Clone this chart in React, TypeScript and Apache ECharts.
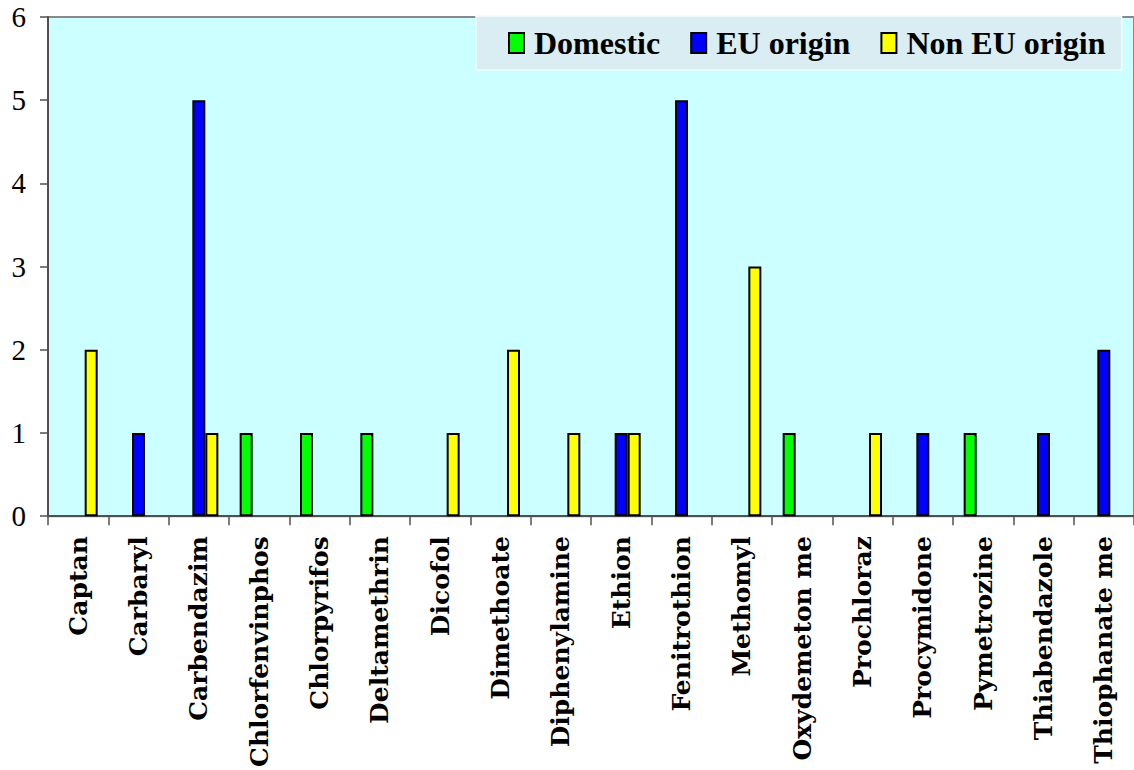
import React, { useEffect, useRef } from "react";
import * as echarts from "echarts";

const categories = [
  "Captan",
  "Carbaryl",
  "Carbendazim",
  "Chlorfenvinphos",
  "Chlorpyrifos",
  "Deltamethrin",
  "Dicofol",
  "Dimethoate",
  "Diphenylamine",
  "Ethion",
  "Fenitrothion",
  "Methomyl",
  "Oxydemeton me",
  "Prochloraz",
  "Procymidone",
  "Pymetrozine",
  "Thiabendazole",
  "Thiophanate me",
];

const domestic = [0, 0, 0, 1, 1, 1, 0, 0, 0, 0, 0, 0, 1, 0, 0, 1, 0, 0];
const euOrigin = [0, 1, 5, 0, 0, 0, 0, 0, 0, 1, 5, 0, 0, 0, 1, 0, 1, 2];
const nonEuOrigin = [2, 0, 1, 0, 0, 0, 1, 2, 1, 1, 0, 3, 0, 1, 0, 0, 0, 0];

const yTicks = { min: 0, max: 6, interval: 1 };

const seriesNames = ["Domestic", "EU origin", "Non EU origin"];
const seriesColors = ["#00FF00", "#0000FF", "#FFFF00"];

export default function App() {
  const ref = useRef<HTMLDivElement>(null);

  useEffect(() => {
    if (!ref.current) return;
    const chart = echarts.init(ref.current, null, { renderer: "svg" });
    const values = [domestic, euOrigin, nonEuOrigin];
    chart.setOption({
      animation: false,
      backgroundColor: "#FFFFFF",
      grid: {
        left: 48,
        top: 17,
        right: -5,
        bottom: 253,
        show: true,
        backgroundColor: "#CCFFFF",
        borderColor: "#888888",
        borderWidth: 2,
        containLabel: false,
      },
      legend: {
        left: 476,
        top: 16,
        padding: [11, 16, 11, 32],
        backgroundColor: "#DAEDF2",
        borderColor: "#F4FAFC",
        borderWidth: 1.5,
        itemWidth: 15,
        itemHeight: 20,
        itemGap: 30,
        icon: "rect",
        data: seriesNames,
        itemStyle: { borderColor: "#000000", borderWidth: 2 },
        textStyle: {
          fontFamily: "Liberation Serif",
          fontWeight: "bold",
          fontSize: 32,
          color: "#000000",
          padding: [0, 0, 0, 5],
        },
      },
      xAxis: {
        type: "category",
        data: categories,
        axisLine: { show: true, lineStyle: { color: "#505050", width: 2 } },
        axisTick: {
          show: true,
          alignWithLabel: false,
          interval: 0,
          length: 9,
          lineStyle: { color: "#505050", width: 1.5 },
        },
        axisLabel: {
          interval: 0,
          rotate: 90,
          margin: 20,
          fontFamily: "DejaVu Serif",
          fontWeight: "bold",
          fontSize: 25,
          color: "#000000",
        },
        splitLine: { show: false },
      },
      yAxis: {
        type: "value",
        min: yTicks.min,
        max: yTicks.max,
        interval: yTicks.interval,
        axisLine: { show: true, lineStyle: { color: "#505050", width: 2 } },
        axisTick: {
          show: true,
          length: 8,
          lineStyle: { color: "#505050", width: 1.5 },
        },
        axisLabel: {
          margin: 22,
          fontFamily: "Liberation Serif",
          fontSize: 29,
          color: "#000000",
        },
        splitLine: { show: false },
      },
      series: seriesNames.map((name, i) => ({
        name,
        type: "bar",
        barWidth: 13,
        barGap: "0%",
        data: values[i].map((v) => (v === 0 ? null : v)),
        itemStyle: {
          color: seriesColors[i],
          borderColor: "#000000",
          borderWidth: 2,
        },
      })),
    });
    return () => chart.dispose();
  }, []);

  return (
    <div
      style={{
        position: "absolute",
        left: 0,
        top: 0,
        width: 1134,
        height: 770,
        overflow: "hidden",
        background: "#FFFFFF",
      }}
    >
      <div ref={ref} style={{ width: 1134, height: 770 }} />
    </div>
  );
}
